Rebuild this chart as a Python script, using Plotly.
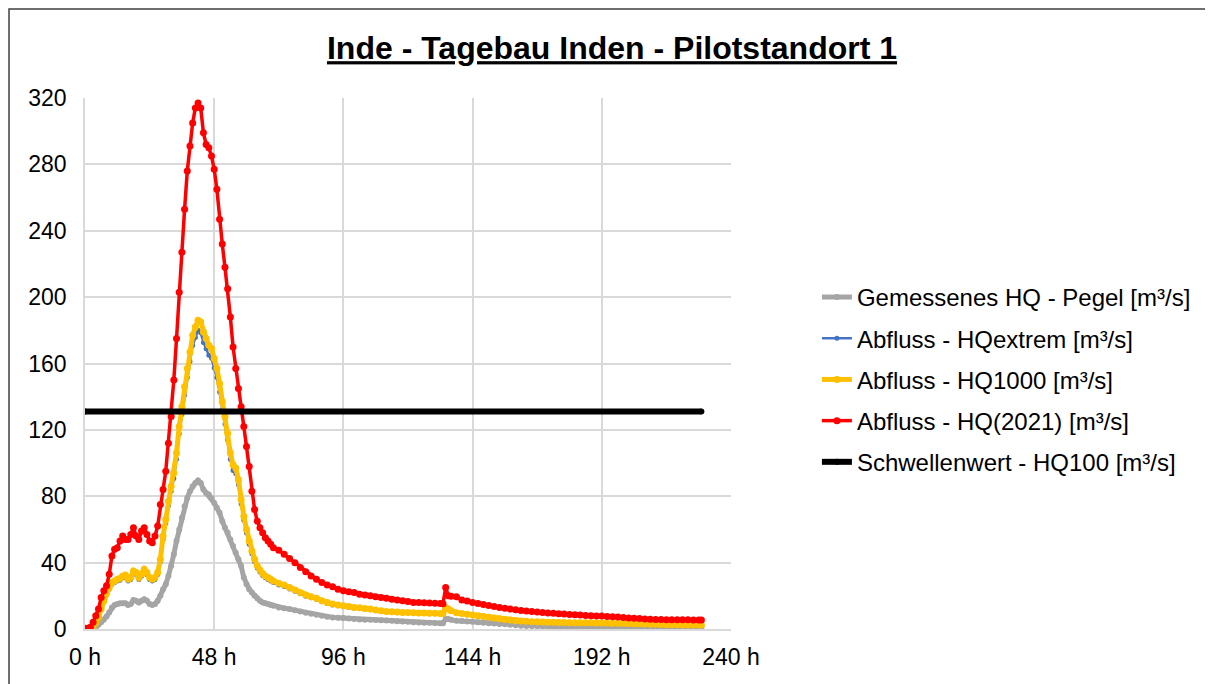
import plotly.graph_objects as go

hours = (list(range(0, 71)) + list(range(72, 133, 2)) + [133, 134, 135, 136, 138, 140, 142]
         + list(range(144, 229, 2)) + [229])

gemessen = [
    0.2, 0.2, 0.3, 0.5, 1, 2.5, 4, 5.5, 7.5, 10,
    13, 14.5, 15, 15.5, 15.5, 15.5, 14.5, 15, 17.5, 17,
    16, 17, 18, 17, 15, 14.5, 15, 17, 20, 24,
    27, 32, 38, 45, 53, 60, 67, 74, 79, 83,
    86, 88, 89.5, 88, 84, 82, 81, 79, 76, 73,
    70, 65, 61, 58, 54, 50, 46, 42, 38, 31,
    27, 24, 22, 20, 18.5, 17, 16, 15.5, 15, 14.5,
    14,
    13, 12.5, 12, 11.3, 10.5, 9.8, 9.2, 8.6, 8, 7.4,
    7, 6.8, 6.6, 6.3, 6, 5.8, 5.6, 5.5, 5.4, 5.3,
    5.1, 4.9, 4.7, 4.5, 4.3, 4.1, 3.9, 3.8, 3.7, 3.6,
    3.5,
    3.4, 6, 6, 5.5, 5, 4.8, 4.5,
    4.3, 4, 3.8, 3.5, 3.3, 3, 2.8, 2.5, 2.3, 2,
    1.8, 1.7, 1.6, 1.55, 1.5, 1.45, 1.4, 1.35, 1.3, 1.3,
    1.3, 1.3, 1.3, 1.25, 1.2, 1.2, 1.2, 1.2, 1.2, 1.2,
    1.2, 1.2, 1.2, 1.15, 1.1, 1.1, 1.1, 1.1, 1.1, 1.1,
    1.1, 1.1, 1.1,
    1.1,
]

hq_extrem = [
    0.3, 0.3, 0.5, 1.1, 3.8, 6.7, 11.5, 16.4, 20.7, 24,
    27, 28, 29, 29.4, 30.9, 31.3, 28.9, 29.9, 33.8, 32.8,
    29.9, 31.8, 34.7, 32.8, 29.9, 28.9, 29.9, 32.8, 40.5, 54,
    63.7, 74.3, 83, 90.7, 102.3, 117.7, 129.3, 140.9, 151.5, 161.2,
    170.8, 175.6, 180, 178.5, 172.7, 168.9, 165, 163.1, 157.3, 151.5,
    142.8, 132.2, 123.5, 113.9, 102.3, 95.5, 93.6, 86.9, 75.3, 65.6,
    57.9, 51.1, 45.3, 40.5, 36.7, 34.3, 32.3, 30.9, 29.9, 29,
    28,
    26.5, 25.6, 24.1, 22.7, 21.2, 19.8, 18.8, 17.9, 16.4, 15.4,
    14.5, 14, 13.5, 13, 12.5, 12.4, 11.9, 11.6, 11.1, 10.6,
    10.2, 10, 9.8, 9.7, 9.6, 9.5, 9.4, 9.3, 9.2, 9.2,
    9.1,
    9.1, 12.5, 11.6, 10.6, 9.5, 9, 8.6,
    8.2, 7.7, 7.3, 6.8, 6.4, 6, 5.6, 5.2, 4.8, 4.6,
    4.4, 4.2, 4.1, 4.05, 4, 3.9, 3.8, 3.75, 3.7, 3.65,
    3.6, 3.6, 3.6, 3.55, 3.5, 3.45, 3.4, 3.35, 3.3, 3.2,
    3.1, 3, 2.9, 2.8, 2.7, 2.6, 2.5, 2.45, 2.4, 2.35,
    2.3, 2.3, 2.3,
    2.3,
]

hq1000 = [
    0.3, 0.3, 0.5, 1.2, 4, 7, 12, 17, 21.5, 25,
    28, 29, 30, 30.5, 32, 32.5, 30, 31, 35, 34,
    31, 33, 36, 34, 31, 30, 31, 34, 42, 56,
    66, 77, 86, 94, 106, 122, 134, 146, 157, 167,
    177, 182, 186, 185, 179, 175, 171, 169, 163, 157,
    148, 137, 128, 118, 106, 99, 97, 90, 78, 68,
    60, 53, 47, 42, 38, 35.5, 33.5, 32, 31, 30,
    29,
    27.5, 26.5, 25, 23.5, 22, 20.5, 19.5, 18.5, 17, 16,
    15, 14.5, 14, 13.5, 13, 12.8, 12.3, 12, 11.5, 11,
    10.6, 10.4, 10.2, 10, 9.9, 9.8, 9.7, 9.6, 9.5, 9.5,
    9.4,
    9.4, 13, 12, 11, 9.8, 9.3, 8.9,
    8.5, 8, 7.6, 7.1, 6.6, 6.2, 5.8, 5.4, 5, 4.8,
    4.6, 4.4, 4.3, 4.2, 4.1, 4, 3.9, 3.85, 3.8, 3.75,
    3.7, 3.7, 3.7, 3.65, 3.6, 3.55, 3.5, 3.45, 3.4, 3.3,
    3.2, 3.1, 3, 2.9, 2.8, 2.7, 2.6, 2.55, 2.5, 2.45,
    2.4, 2.4, 2.4,
    2.4,
]

hq2021 = [
    0.5, 0.5, 1, 4, 8, 12, 19, 23, 26, 33,
    44, 48, 49, 53, 56, 54, 54, 57, 61, 56,
    54, 59, 61, 57, 53, 52, 56, 62, 75, 84,
    95, 112, 128, 150, 175, 203, 227, 253, 276, 291,
    305, 314, 317, 314, 299, 292, 290, 285, 277, 265,
    247, 232, 218, 205, 188, 170, 157, 145, 134, 122,
    110, 98, 83, 72, 65, 61, 58, 55, 53, 51,
    49,
    47.5, 45, 42.5, 40, 37, 34.5, 32, 30, 28, 26.5,
    25.5, 24, 23, 22.5, 22, 21, 20.5, 20, 19.5, 19,
    18.5, 18, 17.5, 17, 16.5, 16, 16, 15.8, 15.6, 15.5,
    15.3,
    15.2, 25, 20, 19.8, 19.5, 17.5, 16.8,
    16, 15.4, 14.8, 14.2, 13.6, 13, 12.5, 12, 11.6, 11.2,
    10.8, 10.5, 10.2, 10, 9.7, 9.5, 9.2, 9, 8.8, 8.6,
    8.4, 8.2, 8, 7.9, 7.8, 7.6, 7.4, 7.2, 7, 6.7,
    6.5, 6.3, 6.1, 5.9, 5.8, 5.7, 5.6, 5.6, 5.5, 5.5,
    5.5, 5.4, 5.4,
    5.4,
]

schwelle_hours = [0, 229]
schwelle = [131, 131]

x_ticks = [0, 48, 96, 144, 192, 240]
x_tick_labels = ["0 h", "48 h", "96 h", "144 h", "192 h", "240 h"]
y_ticks = [0, 40, 80, 120, 160, 200, 240, 280, 320]

for name, s in [("gemessen", gemessen), ("hq_extrem", hq_extrem), ("hq1000", hq1000), ("hq2021", hq2021)]:
    assert len(s) == len(hours), (name, len(s), len(hours))

FONT = "Arial, Liberation Sans, sans-serif"

# page body has an 8px margin -> figure is 8px smaller, margins compensate
W, H = 1205, 676
ML, MT, PW, PH = 77, 90, 646, 531

fig = go.Figure()
series = [
    ("Gemessenes HQ - Pegel [m³/s]", hours, gemessen, "#A5A5A5", 5, 6),
    ("Abfluss - HQextrem [m³/s]", hours, hq_extrem, "#4472C4", 2.5, 5),
    ("Abfluss - HQ1000 [m³/s]", hours, hq1000, "#FFC000", 5, 7),
    ("Abfluss - HQ(2021) [m³/s]", hours, hq2021, "#FF0000", 3.5, 7),
    ("Schwellenwert - HQ100 [m³/s]", schwelle_hours, schwelle, "#000000", 6, 6),
]
for i, (name, xs, ys, col, lw, ms) in enumerate(series):
    fig.add_trace(go.Scatter(
        x=xs, y=ys, name=name, mode="lines+markers",
        line=dict(color=col, width=lw),
        marker=dict(color=col, size=ms),
        legendgroup=f"g{i}",
    ))

fig.update_layout(
    width=W, height=H,
    paper_bgcolor="white", plot_bgcolor="white",
    margin=dict(l=ML, r=W - ML - PW, t=MT, b=H - MT - PH, autoexpand=False),
    font=dict(family=FONT, color="#000000", size=22),
    title=dict(
        text="<b><u>Inde - Tagebau Inden - Pilotstandort 1</u></b>",
        x=604 / W, xanchor="center", xref="container",
        y=1 - 40 / H, yanchor="middle", yref="container",
        font=dict(family=FONT, size=32, color="#000000"),
    ),
    showlegend=True,
    legend=dict(
        x=1.133, xanchor="left", y=0.47, yanchor="middle",
        font=dict(family=FONT, size=24, color="#000000"),
        bgcolor="rgba(0,0,0,0)", tracegroupgap=7,
        traceorder="grouped",
    ),
    xaxis=dict(
        range=[0, 240], tickvals=x_ticks, ticktext=x_tick_labels,
        showgrid=True, gridcolor="#D9D9D9", gridwidth=1.5,
        showline=True, linecolor="#D9D9D9", linewidth=1.5, mirror=False,
        zeroline=False, ticks="", ticklabelstandoff=7, automargin=False,
        tickfont=dict(family=FONT, size=23, color="#000000"),
    ),
    yaxis=dict(
        range=[0, 320], tickvals=y_ticks,
        showgrid=True, gridcolor="#D9D9D9", gridwidth=1.5,
        showline=True, linecolor="#D9D9D9", linewidth=1.5,
        zeroline=False, ticks="", ticklabelstandoff=12, automargin=False,
        tickfont=dict(family=FONT, size=23, color="#000000"),
    ),
    shapes=[dict(
        type="rect", xref="paper", yref="paper",
        x0=(1 - ML) / PW, x1=(1240 - ML) / PW,
        y0=-0.2, y1=(MT + PH - 1) / PH,
        line=dict(color="#404040", width=1.5), fillcolor="rgba(0,0,0,0)", layer="below",
    )],
)

fig.write_html("out.html")
